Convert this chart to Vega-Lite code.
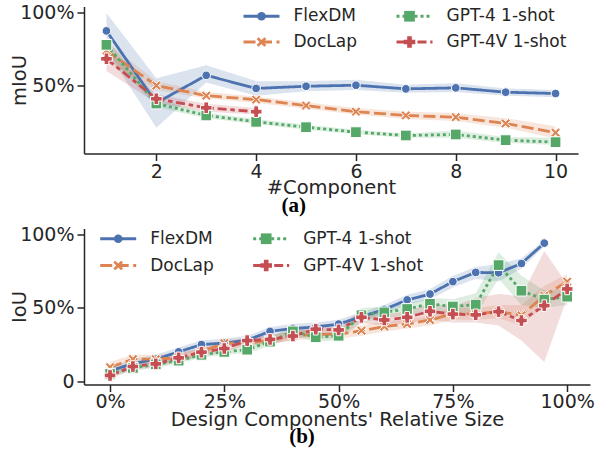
{
  "$schema": "https://vega.github.io/schema/vega-lite/v6.json",
  "padding": {"left": 9, "top": 3.5, "right": 0, "bottom": 0},
  "spacing": 9,
  "resolve": {
    "scale": {"color": "independent", "fill": "independent", "stroke": "independent", "shape": "independent", "size": "independent", "strokeDash": "independent"},
    "legend": {"color": "independent", "fill": "independent", "stroke": "independent", "shape": "independent", "size": "independent", "strokeDash": "independent"}
  },
  "config": {
    "view": {"stroke": null},
    "axis": {"grid": false, "domainColor": "#262626", "domainWidth": 1.5, "tickColor": "#262626", "tickWidth": 1.5, "tickSize": 7,
      "labelFont": "DejaVu Sans", "labelFontSize": 19, "labelColor": "#262626", "labelPadding": 3,
      "titleFont": "DejaVu Sans", "titleFontSize": 19.5, "titleFontWeight": "normal", "titleColor": "#262626"},
    "legend": {"labelFont": "DejaVu Sans", "labelFontSize": 17, "labelColor": "#262626", "padding": 0}
  },
  "datasets": {
    "top": [
      {"m":"FlexDM","x":1,"v":87.6,"lo":74,"hi":100},
      {"m":"FlexDM","x":2,"v":38,"lo":21,"hi":55},
      {"m":"FlexDM","x":3,"v":57,"lo":52,"hi":64},
      {"m":"FlexDM","x":4,"v":48,"lo":43,"hi":53},
      {"m":"FlexDM","x":5,"v":49.5,"lo":46,"hi":53},
      {"m":"FlexDM","x":6,"v":50.2,"lo":47,"hi":54},
      {"m":"FlexDM","x":7,"v":47.7,"lo":45,"hi":50.5},
      {"m":"FlexDM","x":8,"v":48.4,"lo":45.5,"hi":51.5},
      {"m":"FlexDM","x":9,"v":45.4,"lo":43,"hi":48},
      {"m":"FlexDM","x":10,"v":44.5,"lo":42,"hi":47},
      {"m":"DocLap","x":1,"v":74,"lo":66,"hi":80},
      {"m":"DocLap","x":2,"v":50,"lo":47,"hi":53},
      {"m":"DocLap","x":3,"v":43,"lo":41,"hi":45.5},
      {"m":"DocLap","x":4,"v":40.3,"lo":38,"hi":42.5},
      {"m":"DocLap","x":5,"v":36.2,"lo":34,"hi":38.5},
      {"m":"DocLap","x":6,"v":32,"lo":30,"hi":34.5},
      {"m":"DocLap","x":7,"v":29.4,"lo":27,"hi":32},
      {"m":"DocLap","x":8,"v":28.2,"lo":25.5,"hi":31},
      {"m":"DocLap","x":9,"v":23.9,"lo":21,"hi":27.5},
      {"m":"DocLap","x":10,"v":17.5,"lo":13.5,"hi":22},
      {"m":"GPT-4 1-shot","x":1,"v":78,"lo":73,"hi":82},
      {"m":"GPT-4 1-shot","x":2,"v":37.6,"lo":35,"hi":40.5},
      {"m":"GPT-4 1-shot","x":3,"v":29.4,"lo":27.5,"hi":31.5},
      {"m":"GPT-4 1-shot","x":4,"v":25,"lo":23.5,"hi":27},
      {"m":"GPT-4 1-shot","x":5,"v":21.3,"lo":19.5,"hi":23},
      {"m":"GPT-4 1-shot","x":6,"v":17.9,"lo":16.5,"hi":19.5},
      {"m":"GPT-4 1-shot","x":7,"v":15.6,"lo":14,"hi":17},
      {"m":"GPT-4 1-shot","x":8,"v":16.3,"lo":14,"hi":19},
      {"m":"GPT-4 1-shot","x":9,"v":12.4,"lo":10.5,"hi":14.5},
      {"m":"GPT-4 1-shot","x":10,"v":11,"lo":9,"hi":14},
      {"m":"GPT-4V 1-shot","x":1,"v":68.4,"lo":60,"hi":76},
      {"m":"GPT-4V 1-shot","x":2,"v":40.9,"lo":38,"hi":44},
      {"m":"GPT-4V 1-shot","x":3,"v":34.7,"lo":32,"hi":37.5},
      {"m":"GPT-4V 1-shot","x":4,"v":32,"lo":30,"hi":34.5}
    ],
    "bottom": [
      {"m":"FlexDM","x":0,"v":7,"lo":4,"hi":10},
      {"m":"FlexDM","x":5,"v":12,"lo":9,"hi":15},
      {"m":"FlexDM","x":10,"v":15,"lo":12,"hi":18},
      {"m":"FlexDM","x":15,"v":20,"lo":17,"hi":23},
      {"m":"FlexDM","x":20,"v":25,"lo":22,"hi":28},
      {"m":"FlexDM","x":25,"v":26,"lo":23,"hi":29},
      {"m":"FlexDM","x":30,"v":28,"lo":25,"hi":31},
      {"m":"FlexDM","x":35,"v":34,"lo":31,"hi":37},
      {"m":"FlexDM","x":40,"v":36,"lo":33,"hi":39},
      {"m":"FlexDM","x":45,"v":37,"lo":34,"hi":40},
      {"m":"FlexDM","x":50,"v":39,"lo":36,"hi":42},
      {"m":"FlexDM","x":55,"v":44,"lo":41,"hi":47},
      {"m":"FlexDM","x":60,"v":49,"lo":46,"hi":52},
      {"m":"FlexDM","x":65,"v":55.5,"lo":52,"hi":59},
      {"m":"FlexDM","x":70,"v":59.5,"lo":56,"hi":63},
      {"m":"FlexDM","x":75,"v":68,"lo":64,"hi":72},
      {"m":"FlexDM","x":80,"v":74.3,"lo":70,"hi":78},
      {"m":"FlexDM","x":85,"v":74,"lo":68,"hi":80},
      {"m":"FlexDM","x":90,"v":80.4,"lo":77,"hi":84},
      {"m":"FlexDM","x":95,"v":94.3,"lo":92,"hi":96},
      {"m":"DocLap","x":0,"v":9.5,"lo":6,"hi":13},
      {"m":"DocLap","x":5,"v":15,"lo":11,"hi":18},
      {"m":"DocLap","x":10,"v":15,"lo":12,"hi":18},
      {"m":"DocLap","x":15,"v":16,"lo":13,"hi":19},
      {"m":"DocLap","x":20,"v":20,"lo":17,"hi":23},
      {"m":"DocLap","x":25,"v":26,"lo":23,"hi":29},
      {"m":"DocLap","x":30,"v":26,"lo":23,"hi":29},
      {"m":"DocLap","x":35,"v":28,"lo":25,"hi":31},
      {"m":"DocLap","x":40,"v":31,"lo":28,"hi":34},
      {"m":"DocLap","x":45,"v":32,"lo":29,"hi":35},
      {"m":"DocLap","x":50,"v":32,"lo":29,"hi":35},
      {"m":"DocLap","x":55,"v":34.5,"lo":31,"hi":38},
      {"m":"DocLap","x":60,"v":37.3,"lo":34,"hi":41},
      {"m":"DocLap","x":65,"v":39,"lo":36,"hi":42},
      {"m":"DocLap","x":70,"v":41.8,"lo":38,"hi":45},
      {"m":"DocLap","x":75,"v":46,"lo":42,"hi":50},
      {"m":"DocLap","x":80,"v":46,"lo":42,"hi":50},
      {"m":"DocLap","x":85,"v":47.5,"lo":43,"hi":52},
      {"m":"DocLap","x":90,"v":45,"lo":38,"hi":52},
      {"m":"DocLap","x":95,"v":58.4,"lo":52,"hi":65},
      {"m":"DocLap","x":100,"v":68,"lo":63,"hi":73},
      {"m":"GPT-4 1-shot","x":0,"v":5,"lo":3,"hi":7},
      {"m":"GPT-4 1-shot","x":5,"v":9,"lo":7,"hi":11},
      {"m":"GPT-4 1-shot","x":10,"v":11.5,"lo":9,"hi":14},
      {"m":"GPT-4 1-shot","x":15,"v":14,"lo":12,"hi":16},
      {"m":"GPT-4 1-shot","x":20,"v":18,"lo":16,"hi":20},
      {"m":"GPT-4 1-shot","x":25,"v":20,"lo":18,"hi":22},
      {"m":"GPT-4 1-shot","x":30,"v":21.5,"lo":19,"hi":24},
      {"m":"GPT-4 1-shot","x":35,"v":27,"lo":24,"hi":30},
      {"m":"GPT-4 1-shot","x":40,"v":34,"lo":31,"hi":37},
      {"m":"GPT-4 1-shot","x":45,"v":30,"lo":27,"hi":33},
      {"m":"GPT-4 1-shot","x":50,"v":31,"lo":28,"hi":34},
      {"m":"GPT-4 1-shot","x":55,"v":45,"lo":40,"hi":50},
      {"m":"GPT-4 1-shot","x":60,"v":47,"lo":43,"hi":51},
      {"m":"GPT-4 1-shot","x":65,"v":49.3,"lo":45,"hi":53},
      {"m":"GPT-4 1-shot","x":70,"v":52.8,"lo":48,"hi":57},
      {"m":"GPT-4 1-shot","x":75,"v":51,"lo":46,"hi":56},
      {"m":"GPT-4 1-shot","x":80,"v":52.3,"lo":45,"hi":60},
      {"m":"GPT-4 1-shot","x":85,"v":79.3,"lo":70,"hi":88},
      {"m":"GPT-4 1-shot","x":90,"v":61.8,"lo":52,"hi":72},
      {"m":"GPT-4 1-shot","x":95,"v":55.7,"lo":50,"hi":62},
      {"m":"GPT-4 1-shot","x":100,"v":57.7,"lo":52,"hi":63},
      {"m":"GPT-4V 1-shot","x":0,"v":3.9,"lo":1.5,"hi":6.5},
      {"m":"GPT-4V 1-shot","x":5,"v":10,"lo":8,"hi":12.5},
      {"m":"GPT-4V 1-shot","x":10,"v":11.8,"lo":9.5,"hi":14},
      {"m":"GPT-4V 1-shot","x":15,"v":15.9,"lo":13.5,"hi":18.5},
      {"m":"GPT-4V 1-shot","x":20,"v":19.8,"lo":17,"hi":22.5},
      {"m":"GPT-4V 1-shot","x":25,"v":22.3,"lo":19.5,"hi":25},
      {"m":"GPT-4V 1-shot","x":30,"v":27.7,"lo":25,"hi":30.5},
      {"m":"GPT-4V 1-shot","x":35,"v":28.5,"lo":25.5,"hi":31.5},
      {"m":"GPT-4V 1-shot","x":40,"v":30.8,"lo":28,"hi":34},
      {"m":"GPT-4V 1-shot","x":45,"v":35.5,"lo":32,"hi":39},
      {"m":"GPT-4V 1-shot","x":50,"v":35,"lo":31.5,"hi":38.5},
      {"m":"GPT-4V 1-shot","x":55,"v":43.6,"lo":39.5,"hi":47.5},
      {"m":"GPT-4V 1-shot","x":60,"v":41.8,"lo":38,"hi":45.5},
      {"m":"GPT-4V 1-shot","x":65,"v":43.6,"lo":39.5,"hi":47.5},
      {"m":"GPT-4V 1-shot","x":70,"v":47.7,"lo":42,"hi":53},
      {"m":"GPT-4V 1-shot","x":75,"v":45.8,"lo":40,"hi":51},
      {"m":"GPT-4V 1-shot","x":80,"v":45.3,"lo":40,"hi":57},
      {"m":"GPT-4V 1-shot","x":85,"v":47.5,"lo":38,"hi":59.6},
      {"m":"GPT-4V 1-shot","x":90,"v":41.4,"lo":27.7,"hi":58},
      {"m":"GPT-4V 1-shot","x":95,"v":51.6,"lo":13,"hi":89},
      {"m":"GPT-4V 1-shot","x":100,"v":63,"lo":57,"hi":66}
    ]
  },
  "vconcat": [
    {
      "width": 494, "height": 147,
      "title": {"text": "(a)", "orient": "bottom", "anchor": "middle", "frame": "bounds", "font": "Liberation Serif", "fontWeight": "bold", "fontSize": 21, "color": "#000000", "offset": -2},
      "data": {"name": "top"},
      "encoding": {
        "x": {"field": "x", "type": "quantitative", "scale": {"domain": [0.55, 10.45], "nice": false, "zero": false},
          "axis": {"values": [2, 4, 6, 8, 10], "title": "#Component", "labelPadding": 2, "titlePadding": -3}}
      },
      "layer": [
        {
          "mark": {"type": "area", "opacity": 0.2},
          "encoding": {
            "y": {"field": "lo", "type": "quantitative", "scale": {"domain": [3.2, 104.4], "nice": false, "zero": false},
              "axis": {"values": [50, 100], "title": "mIoU", "labelExpr": "datum.value + '%'", "titlePadding": -10}},
            "y2": {"field": "hi"},
            "color": {"field": "m", "type": "nominal", "scale": {"domain": ["DocLap", "FlexDM", "GPT-4 1-shot", "GPT-4V 1-shot"], "range": ["#DD8452", "#4C72B0", "#55A868", "#C44E52"]}, "legend": null}
          }
        },
        {
          "mark": {"type": "line", "strokeWidth": 2.8},
          "encoding": {
            "y": {"field": "v", "type": "quantitative", "axis": {"values": [50, 100], "title": "mIoU", "labelExpr": "datum.value + '%'", "titlePadding": -10}},
            "stroke": {"field": "m", "type": "nominal",
              "scale": {"domain": ["FlexDM", "DocLap", "GPT-4 1-shot", "GPT-4V 1-shot"], "range": ["#4C72B0", "#DD8452", "#55A868", "#C44E52"]},
              "legend": {"orient": "none", "legendX": 169, "legendY": 1, "columns": 2, "direction": "vertical", "title": null, "values": ["FlexDM", "DocLap", "GPT-4 1-shot", "GPT-4V 1-shot"], "symbolType": "M-3,0L3,0", "symbolSize": 144, "symbolStrokeWidth": 2.8, "labelOffset": 23.5, "columnPadding": 32, "rowPadding": 8}},
            "strokeDash": {"field": "m", "type": "nominal",
              "scale": {"domain": ["FlexDM", "DocLap", "GPT-4 1-shot", "GPT-4V 1-shot"], "range": [[1, 0], [12, 4.5], [3, 3], [9, 3.75, 4.5, 3.75]]},
              "legend": {"orient": "none", "legendX": 169, "legendY": 1, "columns": 2, "direction": "vertical", "title": null, "values": ["FlexDM", "DocLap", "GPT-4 1-shot", "GPT-4V 1-shot"], "symbolType": "M-3,0L3,0", "symbolSize": 144, "symbolStrokeWidth": 2.8, "labelOffset": 23.5, "columnPadding": 32, "rowPadding": 8}}
          }
        },
        {
          "mark": {"type": "point", "filled": true, "stroke": "white", "strokeWidth": 1, "opacity": 1},
          "encoding": {
            "y": {"field": "v", "type": "quantitative", "axis": {"values": [50, 100], "title": "mIoU", "labelExpr": "datum.value + '%'", "titlePadding": -10}},
            "fill": {"field": "m", "type": "nominal", "scale": {"domain": ["GPT-4V 1-shot", "GPT-4 1-shot", "DocLap", "FlexDM"], "range": ["#C44E52", "#55A868", "#DD8452", "#4C72B0"]},
              "legend": {"orient": "none", "legendX": 169, "legendY": 1, "columns": 2, "direction": "vertical", "title": null, "values": ["FlexDM", "DocLap", "GPT-4 1-shot", "GPT-4V 1-shot"], "symbolStrokeColor": "white", "symbolStrokeWidth": 1, "labelOffset": 23.5, "labelOpacity": 0, "columnPadding": 43, "rowPadding": 8}},
            "shape": {"field": "m", "type": "nominal", "scale": {"domain": ["GPT-4V 1-shot", "GPT-4 1-shot", "DocLap", "FlexDM"], "range": ["cross", "square", "M-1,-0.6L-0.6,-1L0,-0.4L0.6,-1L1,-0.6L0.4,0L1,0.6L0.6,1L0,0.4L-0.6,1L-1,0.6L-0.4,0Z", "circle"]},
              "legend": {"orient": "none", "legendX": 169, "legendY": 1, "columns": 2, "direction": "vertical", "title": null, "values": ["FlexDM", "DocLap", "GPT-4 1-shot", "GPT-4V 1-shot"], "symbolStrokeColor": "white", "symbolStrokeWidth": 1, "labelOffset": 23.5, "labelOpacity": 0, "columnPadding": 43, "rowPadding": 8}},
            "size": {"field": "m", "type": "nominal", "scale": {"domain": ["GPT-4V 1-shot", "GPT-4 1-shot", "DocLap", "FlexDM"], "range": [135, 75, 144, 105]},
              "legend": {"orient": "none", "legendX": 169, "legendY": 1, "columns": 2, "direction": "vertical", "title": null, "values": ["FlexDM", "DocLap", "GPT-4 1-shot", "GPT-4V 1-shot"], "symbolStrokeColor": "white", "symbolStrokeWidth": 1, "labelOffset": 23.5, "labelOpacity": 0, "columnPadding": 43, "rowPadding": 8}}
          }
        }
      ]
    },
    {
      "width": 506, "height": 156,
      "title": {"text": "(b)", "orient": "bottom", "anchor": "middle", "frame": "bounds", "font": "Liberation Serif", "fontWeight": "bold", "fontSize": 21, "color": "#000000", "offset": -3},
      "data": {"name": "bottom"},
      "encoding": {
        "x": {"field": "x", "type": "quantitative", "scale": {"domain": [-5.7, 105], "nice": false, "zero": false},
          "axis": {"values": [0, 25, 50, 75, 100], "title": "Design Components' Relative Size", "labelExpr": "datum.value + '%'", "labelPadding": 1, "titlePadding": -1}}
      },
      "layer": [
        {
          "mark": {"type": "area", "opacity": 0.2},
          "encoding": {
            "y": {"field": "lo", "type": "quantitative", "scale": {"domain": [-2.3, 104.3], "nice": false, "zero": false},
              "axis": {"values": [0, 50, 100], "title": "IoU", "labelExpr": "datum.value == 0 ? '0' : datum.value + '%'", "titlePadding": -10}},
            "y2": {"field": "hi"},
            "color": {"field": "m", "type": "nominal", "scale": {"domain": ["DocLap", "FlexDM", "GPT-4 1-shot", "GPT-4V 1-shot"], "range": ["#DD8452", "#4C72B0", "#55A868", "#C44E52"]}, "legend": null}
          }
        },
        {
          "mark": {"type": "line", "strokeWidth": 2.8},
          "encoding": {
            "y": {"field": "v", "type": "quantitative", "axis": {"values": [0, 50, 100], "title": "IoU", "labelExpr": "datum.value == 0 ? '0' : datum.value + '%'", "titlePadding": -10}},
            "stroke": {"field": "m", "type": "nominal",
              "scale": {"domain": ["FlexDM", "DocLap", "GPT-4 1-shot", "GPT-4V 1-shot"], "range": ["#4C72B0", "#DD8452", "#55A868", "#C44E52"]},
              "legend": {"orient": "none", "legendX": 25.7, "legendY": 1.5, "columns": 2, "direction": "vertical", "title": null, "values": ["FlexDM", "DocLap", "GPT-4 1-shot", "GPT-4V 1-shot"], "symbolType": "M-3,0L3,0", "symbolSize": 144, "symbolStrokeWidth": 2.8, "labelOffset": 23.5, "columnPadding": 32, "rowPadding": 9}},
            "strokeDash": {"field": "m", "type": "nominal",
              "scale": {"domain": ["FlexDM", "DocLap", "GPT-4 1-shot", "GPT-4V 1-shot"], "range": [[1, 0], [12, 4.5], [3, 3], [9, 3.75, 4.5, 3.75]]},
              "legend": {"orient": "none", "legendX": 25.7, "legendY": 1.5, "columns": 2, "direction": "vertical", "title": null, "values": ["FlexDM", "DocLap", "GPT-4 1-shot", "GPT-4V 1-shot"], "symbolType": "M-3,0L3,0", "symbolSize": 144, "symbolStrokeWidth": 2.8, "labelOffset": 23.5, "columnPadding": 32, "rowPadding": 9}}
          }
        },
        {
          "mark": {"type": "point", "filled": true, "stroke": "white", "strokeWidth": 1, "opacity": 1},
          "encoding": {
            "y": {"field": "v", "type": "quantitative", "axis": {"values": [0, 50, 100], "title": "IoU", "labelExpr": "datum.value == 0 ? '0' : datum.value + '%'", "titlePadding": -10}},
            "fill": {"field": "m", "type": "nominal", "scale": {"domain": ["GPT-4V 1-shot", "GPT-4 1-shot", "DocLap", "FlexDM"], "range": ["#C44E52", "#55A868", "#DD8452", "#4C72B0"]},
              "legend": {"orient": "none", "legendX": 25.7, "legendY": 1.5, "columns": 2, "direction": "vertical", "title": null, "values": ["FlexDM", "DocLap", "GPT-4 1-shot", "GPT-4V 1-shot"], "symbolStrokeColor": "white", "symbolStrokeWidth": 1, "labelOffset": 23.5, "labelOpacity": 0, "columnPadding": 43, "rowPadding": 9}},
            "shape": {"field": "m", "type": "nominal", "scale": {"domain": ["GPT-4V 1-shot", "GPT-4 1-shot", "DocLap", "FlexDM"], "range": ["cross", "square", "M-1,-0.6L-0.6,-1L0,-0.4L0.6,-1L1,-0.6L0.4,0L1,0.6L0.6,1L0,0.4L-0.6,1L-1,0.6L-0.4,0Z", "circle"]},
              "legend": {"orient": "none", "legendX": 25.7, "legendY": 1.5, "columns": 2, "direction": "vertical", "title": null, "values": ["FlexDM", "DocLap", "GPT-4 1-shot", "GPT-4V 1-shot"], "symbolStrokeColor": "white", "symbolStrokeWidth": 1, "labelOffset": 23.5, "labelOpacity": 0, "columnPadding": 43, "rowPadding": 9}},
            "size": {"field": "m", "type": "nominal", "scale": {"domain": ["GPT-4V 1-shot", "GPT-4 1-shot", "DocLap", "FlexDM"], "range": [135, 75, 144, 105]},
              "legend": {"orient": "none", "legendX": 25.7, "legendY": 1.5, "columns": 2, "direction": "vertical", "title": null, "values": ["FlexDM", "DocLap", "GPT-4 1-shot", "GPT-4V 1-shot"], "symbolStrokeColor": "white", "symbolStrokeWidth": 1, "labelOffset": 23.5, "labelOpacity": 0, "columnPadding": 43, "rowPadding": 9}}
          }
        }
      ]
    }
  ]
}
